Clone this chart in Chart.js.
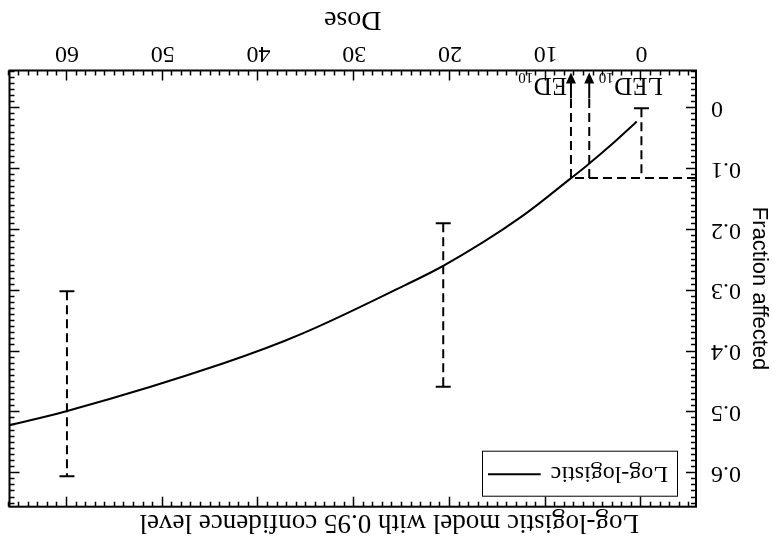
<!DOCTYPE html>
<html><head><meta charset="utf-8">
<script src="https://cdn.jsdelivr.net/npm/chart.js@4/dist/chart.umd.min.js"></script>
<style>
html,body{margin:0;padding:0;background:#fff;overflow:hidden;}
#wrap{width:772px;height:542px;transform:rotate(180deg);transform-origin:50% 50%;}
canvas{display:block;}
</style></head><body>
<div id="wrap"><canvas id="c" width="772" height="542"></canvas></div>
<script>
// ---- data ----
const curveDose = [0.5, 3, 5.45, 7.36, 12.6, 20.7, 25.1, 35.5, 43.8, 59.8, 66];
const curveFrac = [0.022, 0.058, 0.091, 0.115, 0.179, 0.259, 0.294, 0.371, 0.420, 0.497, 0.521];
const errDose = [0, 20.7, 60];
const errLow  = [0, 0.189, 0.301];
const errHigh = [0.114, 0.458, 0.605];
const xTickVals = [0, 10, 20, 30, 40, 50, 60];
const yTickVals = [0, 0.1, 0.2, 0.3, 0.4, 0.5, 0.6];
const yTickLabels = ['0', '0.1', '0.2', '0.3', '0.4', '0.5', '0.6'];
const bmrLevel = 0.1146;
const ed10 = 7.36;
const led10 = 5.45;
const xRange = [-5.7, 66];
const yRange = [-0.062, 0.655];
const titleText = 'Log-logistic model with 0.95 confidence level';
const xTitle = 'Dose';
const yTitle = 'Fraction affected';
const seriesLabel = 'Log-logistic';

const SERIF = '"Liberation Serif", "Times New Roman", serif';
const SANS = '"Liberation Sans", Arial, sans-serif';

const datasets = [{
  label: seriesLabel,
  data: curveDose.map((d, i) => ({x: d, y: curveFrac[i]})),
  borderColor: '#000', borderWidth: 2, pointRadius: 0,
  cubicInterpolationMode: 'monotone', fill: false
}];
errDose.forEach((d, i) => {
  datasets.push({
    label: 'err' + i,
    data: [{x: d, y: errLow[i]}, {x: d, y: errHigh[i]}],
    borderColor: '#000', borderWidth: 2, borderDash: [9, 5],
    pointStyle: 'line', pointRadius: i === 0 ? [7.5, 0] : 7.5, pointBorderWidth: 2,
    pointBorderColor: '#000', pointBackgroundColor: '#000', fill: false
  });
});

function seg(ctx, x1, y1, x2, y2) { ctx.beginPath(); ctx.moveTo(x1, y1); ctx.lineTo(x2, y2); ctx.stroke(); }

const overlay = {
  id: 'overlay',
  afterDraw(chart) {
    const {ctx, chartArea: a, scales: {x, y}} = chart;
    ctx.save();
    ctx.strokeStyle = '#000'; ctx.fillStyle = '#000';
    // frame
    ctx.lineWidth = 2;
    ctx.strokeRect(a.left, a.top, a.right - a.left, a.bottom - a.top);
    // inward ticks on all four sides
    ctx.lineWidth = 1.5;
    for (let v = Math.ceil(x.min); v <= x.max; v++) {
      const px = Math.round(x.getPixelForValue(v)) + 0.5;
      const L = (v % 10 === 0) ? 10 : 5;
      seg(ctx, px, a.bottom, px, a.bottom - L);
      seg(ctx, px, a.top, px, a.top + L);
    }
    for (let i = Math.ceil(y.min * 100); i <= Math.floor(y.max * 100); i++) {
      const py = Math.round(y.getPixelForValue(i / 100)) + 0.5;
      const L = (i % 10 === 0) ? 10 : 5;
      seg(ctx, a.left, py, a.left + L, py);
      seg(ctx, a.right, py, a.right - L, py);
    }
    // benchmark lines
    const yb = y.getPixelForValue(bmrLevel);
    const xe = x.getPixelForValue(ed10);
    const xl = x.getPixelForValue(led10);
    const tip = a.bottom - 2, head = 11, shaftEnd = tip - 26;
    ctx.lineWidth = 2;
    ctx.setLineDash([9, 5]);
    seg(ctx, a.left, yb, xe, yb);
    seg(ctx, xe, yb, xe, shaftEnd);
    seg(ctx, xl, yb, xl, shaftEnd);
    ctx.setLineDash([]);
    [xe, xl].forEach(px => {
      seg(ctx, px, shaftEnd, px, tip - head + 1);
      ctx.beginPath();
      ctx.moveTo(px, tip); ctx.lineTo(px - 5, tip - head); ctx.lineTo(px + 5, tip - head);
      ctx.closePath(); ctx.fill();
    });
    // labels LED10 / ED10
    ctx.textBaseline = 'alphabetic';
    const big = '25px ' + SERIF, small = '15px ' + SERIF;
    ctx.font = small; const wSub = ctx.measureText('10').width;
    ctx.font = big; const wLED = ctx.measureText('LED').width; const wED = ctx.measureText('ED').width;
    const baseMain = a.bottom - 7.5, baseSub = a.bottom - 2.5;
    let sx = xl - 10 - wSub - wLED;
    ctx.font = big; ctx.fillText('LED', sx, baseMain);
    ctx.font = small; ctx.fillText('10', sx + wLED + 0.5, baseSub);
    sx = xe + 4;
    ctx.font = big; ctx.fillText('ED', sx, baseMain);
    ctx.font = small; ctx.fillText('10', sx + wED + 0.5, baseSub);
    // legend
    const bx = a.left + 18, by = a.top + 10, bw = 195, bh = 45;
    ctx.lineWidth = 1;
    ctx.strokeRect(bx + 0.5, by + 0.5, bw, bh);
    ctx.font = '24px ' + SERIF; ctx.textBaseline = 'middle';
    const lab = chart.data.datasets[0].label;
    ctx.fillText(lab, bx + 10, by + bh / 2 + 1);
    const tw = ctx.measureText(lab).width;
    ctx.lineWidth = 2;
    seg(ctx, bx + 10 + tw + 10, by + bh / 2, bx + bw - 5, by + bh / 2);
    ctx.restore();
  }
};

new Chart(document.getElementById('c'), {
  type: 'line',
  data: {datasets},
  options: {
    responsive: false, animation: false, devicePixelRatio: 1,
    layout: {padding: {left: 0, right: 6.5, top: 0, bottom: 0}},
    plugins: {
      legend: {display: false}, tooltip: {enabled: false},
      title: {display: true, text: titleText, color: '#000',
        font: {family: SERIF, size: 27, weight: 'normal', lineHeight: 1.0},
        padding: {top: 6, bottom: 2.3}}
    },
    scales: {
      x: {
        type: 'linear', min: xRange[0], max: xRange[1],
        afterBuildTicks: s => { s.ticks = xTickVals.map(v => ({value: v})); },
        afterFit: s => { s.height = 70.5; },
        grid: {display: false, drawTicks: false}, border: {display: false},
        ticks: {color: '#000', font: {family: SERIF, size: 24}, padding: 3, maxRotation: 0, autoSkip: false,
          callback: v => String(v)},
        title: {display: true, text: xTitle, color: '#000', font: {family: SERIF, size: 28}, padding: {top: 0, bottom: 3}}
      },
      y: {
        type: 'linear', min: yRange[0], max: yRange[1],
        afterBuildTicks: s => { s.ticks = yTickVals.map(v => ({value: v})); },
        afterFit: s => { s.width = 76; },
        grid: {display: false, drawTicks: false}, border: {display: false},
        ticks: {color: '#000', font: {family: SERIF, size: 24}, padding: 15, autoSkip: false,
          callback: (v) => { const i = yTickVals.findIndex(t => Math.abs(t - v) < 1e-9); return i >= 0 ? yTickLabels[i] : ''; }},
        title: {display: true, text: yTitle, color: '#000', font: {family: SANS, size: 22}, padding: {top: 0, bottom: 0}}
      }
    }
  },
  plugins: [overlay]
});
</script>
</body></html>
